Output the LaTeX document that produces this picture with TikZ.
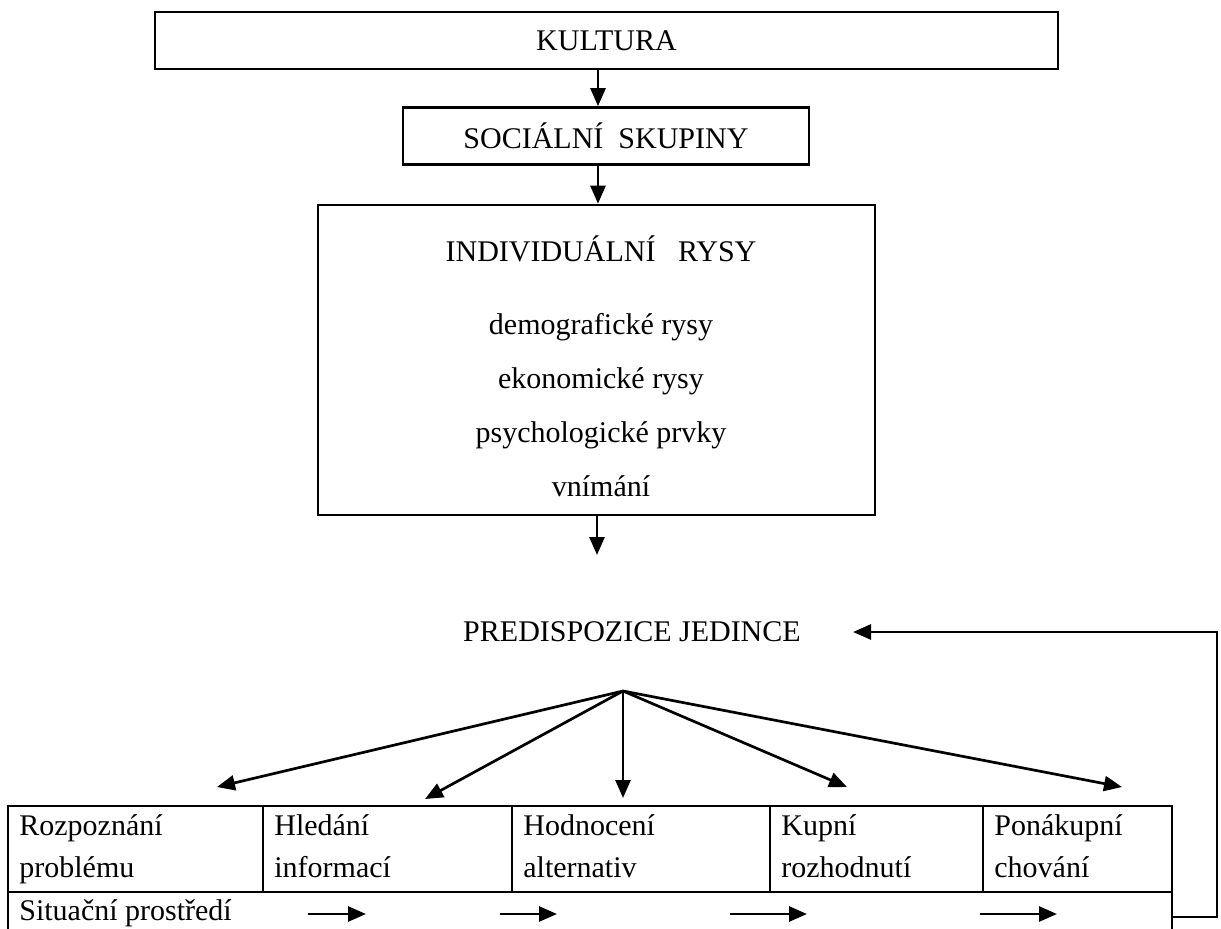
\documentclass[tikz,border=0pt]{standalone}
\usepackage{fontspec}
\setmainfont{Liberation Serif}
\usetikzlibrary{arrows.meta}
\begin{document}
\begin{tikzpicture}[x=1pt,y=-1pt,
  line width=2.7pt,
  every node/.style={font=\fontsize{30}{40}\selectfont, inner sep=0pt},
  box/.style={draw, line width=2.7pt},
  arr/.style={-{Triangle[length=18pt,width=15pt]}},
  cell/.style={draw, line width=2.7pt, anchor=north west, outer sep=0pt,
    minimum height=86pt},
  label/.style={anchor=base west},
  item/.style={anchor=base}]
\useasboundingbox (0,0) rectangle (1221,929);

% hierarchy of influences
\node[box, minimum width=903pt, minimum height=57pt] (kultura) at (606.5,40.5) {KULTURA};
\node[box, minimum width=406pt, minimum height=57pt] (soc) at (606,136) {SOCIÁLNÍ\ \ SKUPINY};
\node[box, minimum width=557pt, minimum height=310pt] (ind) at (596.5,360) {};
\node (indt) at (601,249) {INDIVIDUÁLNÍ\ \ \ RYSY};
\node[item] (demo) at (601,334) {demografické rysy};
\node[item] (ekon) at (601,388) {ekonomické rysy};
\node[item] (psych) at (601,442) {psychologické prvky};
\node[item] (vnim) at (601,496) {vnímání};
\node (pred) at (632,632) {PREDISPOZICE JEDINCE};

\coordinate (axis) at (598,0);
\coordinate (axisb) at (597,0);
\coordinate (predin) at (597,555);
\draw[arr] (kultura.south -| axis) -- (soc.north -| axis);
\draw[arr] (soc.south -| axis) -- (ind.north -| axis);
\draw[arr] (ind.south -| axisb) -- (predin);

% decision stages
\node[cell, minimum width=255pt] (c1) at (8,806) {};
\node[cell, minimum width=249pt] (c2) at (263,806) {};
\node[cell, minimum width=258pt] (c3) at (512,806) {};
\node[cell, minimum width=213pt] (c4) at (770,806) {};
\node[cell, minimum width=189pt] (c5) at (983,806) {};
\node[label] (l1a) at (18,835) {Rozpoznání};
\node[label] (l1b) at (18,877) {problému};
\node[label] (l2a) at (273,835) {Hledání};
\node[label] (l2b) at (273,877) {informací};
\node[label] (l3a) at (522,835) {Hodnocení};
\node[label] (l3b) at (522,877) {alternativ};
\node[label] (l4a) at (780,835) {Kupní};
\node[label] (l4b) at (780,877) {rozhodnutí};
\node[label] (l5a) at (993,835) {Ponákupní};
\node[label] (l5b) at (993,877) {chování};
\coordinate (tl) at (8,929);
\coordinate (tr) at (1172,929);
\draw (c1.south west) -- (tl);
\draw (c5.south east) -- (tr);
\node[label] (sit) at (18,920) {Situační prostředí};

% fan of influences from the predisposition
\coordinate (fan) at (623,691);
\coordinate (t1) at (217,787);
\coordinate (t2) at (425,799);
\coordinate (t3) at (623,798);
\coordinate (t4) at (847,787);
\coordinate (t5) at (1122,787);
\foreach \t in {t1,t2,t3,t4,t5} \draw[arr] (fan) -- (\t);

% sequence arrows along the situational row
\foreach \i/\a/\b in {1/308/366, 2/500/557, 3/730/807, 4/980/1057} {
  \coordinate (s\i a) at (\a,914);
  \coordinate (s\i b) at (\b,914);
  \draw[arr] (s\i a) -- (s\i b);
}

% feedback loop back to the predisposition
\coordinate (fbstart) at (1172,917);
\coordinate (fbcorner) at (1217,632);
\coordinate (fbend) at (853,632);
\draw[arr] (fbstart) -| (fbcorner) -- (fbend);
\end{tikzpicture}
\end{document}
